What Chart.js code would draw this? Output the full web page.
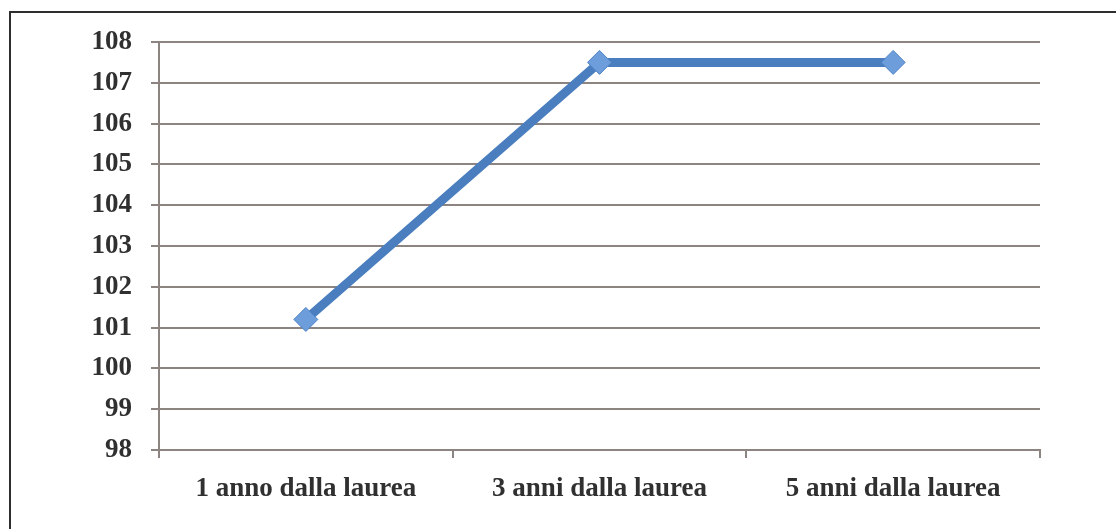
<!DOCTYPE html>
<html>
<head>
<meta charset="utf-8">
<script src="https://cdn.jsdelivr.net/npm/chart.js@4/dist/chart.umd.min.js"></script>
<style>
    body { margin: 0; background: #fff; }
    #wrap { position: relative; width: 1116px; height: 529px; overflow: hidden; }
    #frame {
        position: absolute; left: 9px; top: 11px; width: 1200px; height: 600px;
        border-top: 2px solid #2e2e2e; border-left: 2px solid #2e2e2e;
    }
    canvas { position: absolute; left: 0; top: 0; }
</style>
</head>
<body>
<div id="wrap">
    <div id="frame"></div>
    <canvas id="chart" width="1116" height="529"></canvas>
</div>
<script>
// Data
const categories = ['1 anno dalla laurea', '3 anni dalla laurea', '5 anni dalla laurea'];
const values = [101.2, 107.5, 107.5];
const yMin = 98;
const yMax = 108;

const gridColor = '#8c8480';
const lineColor = '#4a7ebf';
const textColor = '#303030';
const fontFamily = "'Liberation Serif', serif";

const ctx = document.getElementById('chart').getContext('2d');

new Chart(ctx, {
    type: 'line',
    data: {
        labels: categories,
        datasets: [{
            data: values,
            borderColor: lineColor,
            borderWidth: 9,
            pointStyle: 'rectRot',
            pointRadius: 12,
            pointHoverRadius: 12,
            pointBackgroundColor: '#6d9dda',
            pointBorderColor: '#4f83c4',
            pointBorderWidth: 1,
            tension: 0
        }]
    },
    options: {
        responsive: false,
        animation: false,
        layout: {
            padding: { left: 0, right: 76, top: 42, bottom: 0 }
        },
        plugins: {
            legend: { display: false },
            tooltip: { enabled: false }
        },
        scales: {
            x: {
                offset: true,
                grid: {
                    offset: true,
                    drawOnChartArea: false,
                    drawTicks: true,
                    tickLength: 8,
                    color: gridColor,
                    lineWidth: 2
                },
                border: { color: gridColor, width: 2 },
                ticks: {
                    color: textColor,
                    padding: 15,
                    font: { family: fontFamily, size: 27, weight: 'bold' }
                },
                afterFit: (scale) => { scale.height = 79; }
            },
            y: {
                min: yMin,
                max: yMax,
                grid: {
                    color: gridColor,
                    lineWidth: 2,
                    tickLength: 8
                },
                border: { color: gridColor, width: 2 },
                ticks: {
                    stepSize: 1,
                    color: textColor,
                    padding: 19,
                    font: { family: fontFamily, size: 27, weight: 'bold' }
                },
                afterFit: (scale) => { scale.width = 159; }
            }
        }
    }
});
</script>
</body>
</html>
